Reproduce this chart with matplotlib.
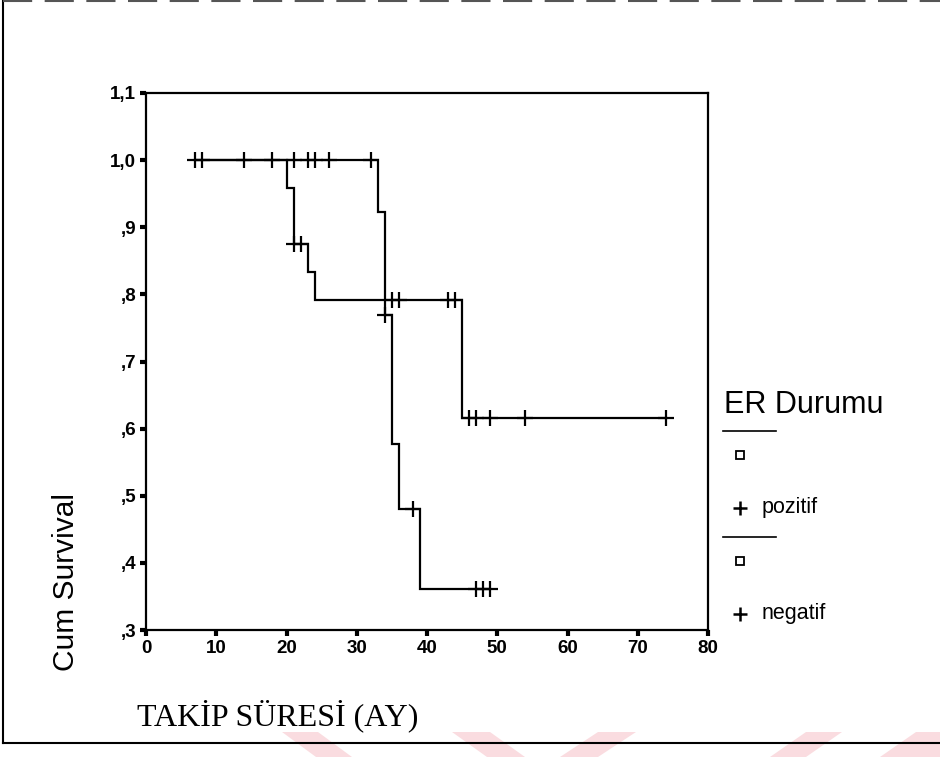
import matplotlib
matplotlib.use("Agg")
import matplotlib.pyplot as plt
from matplotlib.lines import Line2D
from matplotlib.patches import Polygon

# Kaplan-Meier survival by ER status (months of follow-up)
groups = ["pozitif", "negatif"]

pos_event_times = [20, 21, 23, 24, 45]
pos_survival = [0.958, 0.875, 0.833, 0.792, 0.616]
pos_censor_times = [7, 14, 21, 22, 35, 36, 43, 44, 46, 47, 49, 54, 74]

neg_event_times = [33, 34, 35, 36, 39]
neg_survival = [0.923, 0.769, 0.577, 0.481, 0.361]
neg_censor_times = [8, 18, 21, 23, 24, 26, 32, 34, 38, 47, 48, 49]

x_ticks = [0, 10, 20, 30, 40, 50, 60, 70, 80]
y_ticks = [0.3, 0.4, 0.5, 0.6, 0.7, 0.8, 0.9, 1.0, 1.1]
y_tick_labels = [",3", ",4", ",5", ",6", ",7", ",8", ",9", "1,0", "1,1"]

W, H = 940, 757
fig = plt.figure(figsize=(W / 100, H / 100), dpi=100)


def fx(px):
    return px / W


def fy(py):
    return 1 - py / H


ax = fig.add_axes([fx(146), fy(630), fx(708) - fx(146), fy(93) - fy(630)])


def level_at(t, events, surv):
    s = 1.0
    for e, v in zip(events, surv):
        if e <= t:
            s = v
    return s


def draw_km(events, surv, censors):
    start = min(events + censors)
    end = max(events + censors)
    xs = [start] + list(events) + [end]
    ys = [1.0] + list(surv) + [surv[-1]]
    ax.step(xs, ys, where="post", color="black", lw=1.6, solid_joinstyle="miter")
    cy = [level_at(t, events, surv) for t in censors]
    ax.plot(censors, cy, linestyle="none", marker="+", ms=11, mew=1.6, color="black")


draw_km(pos_event_times, pos_survival, pos_censor_times)
draw_km(neg_event_times, neg_survival, neg_censor_times)

ax.set_xlim(0, 80)
ax.set_ylim(0.3, 1.1)
ax.set_xticks(x_ticks)
ax.set_xticklabels([str(t) for t in x_ticks])
ax.set_yticks(y_ticks)
ax.set_yticklabels(y_tick_labels)
for sp in ax.spines.values():
    sp.set_linewidth(1.6)
    sp.set_color("black")
ax.tick_params(direction="out", length=4, width=3, color="black", pad=3)
for lab in ax.get_xticklabels() + ax.get_yticklabels():
    lab.set_fontfamily("Liberation Sans")
    lab.set_fontweight("bold")
    lab.set_fontsize(13.5)

# axis titles
fig.text(fx(66), fy(582), "Cum Survival", rotation=90, ha="center", va="center",
         fontsize=21.5, family="Liberation Sans")
fig.text(fx(137), fy(716), "TAKİP SÜRESİ (AY)", ha="left", va="center",
         fontsize=23, family="Liberation Serif")

# legend
fig.text(fx(724), fy(405), "ER Durumu", ha="left", va="center",
         fontsize=22, family="Liberation Sans")
for i, name in enumerate(groups):
    off = i * 106
    fig.add_artist(Line2D([fx(723), fx(776)], [fy(431 + off)] * 2,
                          color="black", lw=1.2, transform=fig.transFigure))
    fig.add_artist(Line2D([fx(740)], [fy(455 + off)], marker="s", ms=5.5, mfc="white",
                          mec="black", mew=1.3, linestyle="none", transform=fig.transFigure))
    fig.add_artist(Line2D([fx(740)], [fy(508 + off)], marker="+", ms=10, mew=1.8,
                          color="black", linestyle="none", transform=fig.transFigure))
    fig.text(fx(762), fy(508 + off), name, ha="left", va="center",
             fontsize=15.5, family="Liberation Sans")

# page frame
fig.add_artist(Line2D([fx(3), fx(3)], [fy(1), fy(743)], color="black", lw=1.5,
                      transform=fig.transFigure))
fig.add_artist(Line2D([fx(3), fx(940)], [fy(743), fy(743)], color="black", lw=1.5,
                      transform=fig.transFigure))
fig.add_artist(Line2D([fx(3), fx(940)], [fy(1), fy(1)], color="#555555", lw=1.5,
                      linestyle=(0, (14, 6)), transform=fig.transFigure))

# faint background stamp along the bottom edge
stamp = [
    [(282, 732), (318, 732), (352, 757), (316, 757)],
    [(452, 732), (490, 732), (525, 757), (487, 757)],
    [(560, 757), (598, 732), (636, 732), (598, 757)],
    [(770, 757), (806, 732), (842, 732), (806, 757)],
    [(880, 757), (916, 732), (940, 732), (940, 757)],
]
for poly in stamp:
    fig.add_artist(Polygon([(fx(x), fy(y)) for x, y in poly], closed=True,
                           facecolor="#f3a9b2", edgecolor="none", alpha=0.4,
                           transform=fig.transFigure, zorder=-1))

fig.savefig("out.png", dpi=100)
